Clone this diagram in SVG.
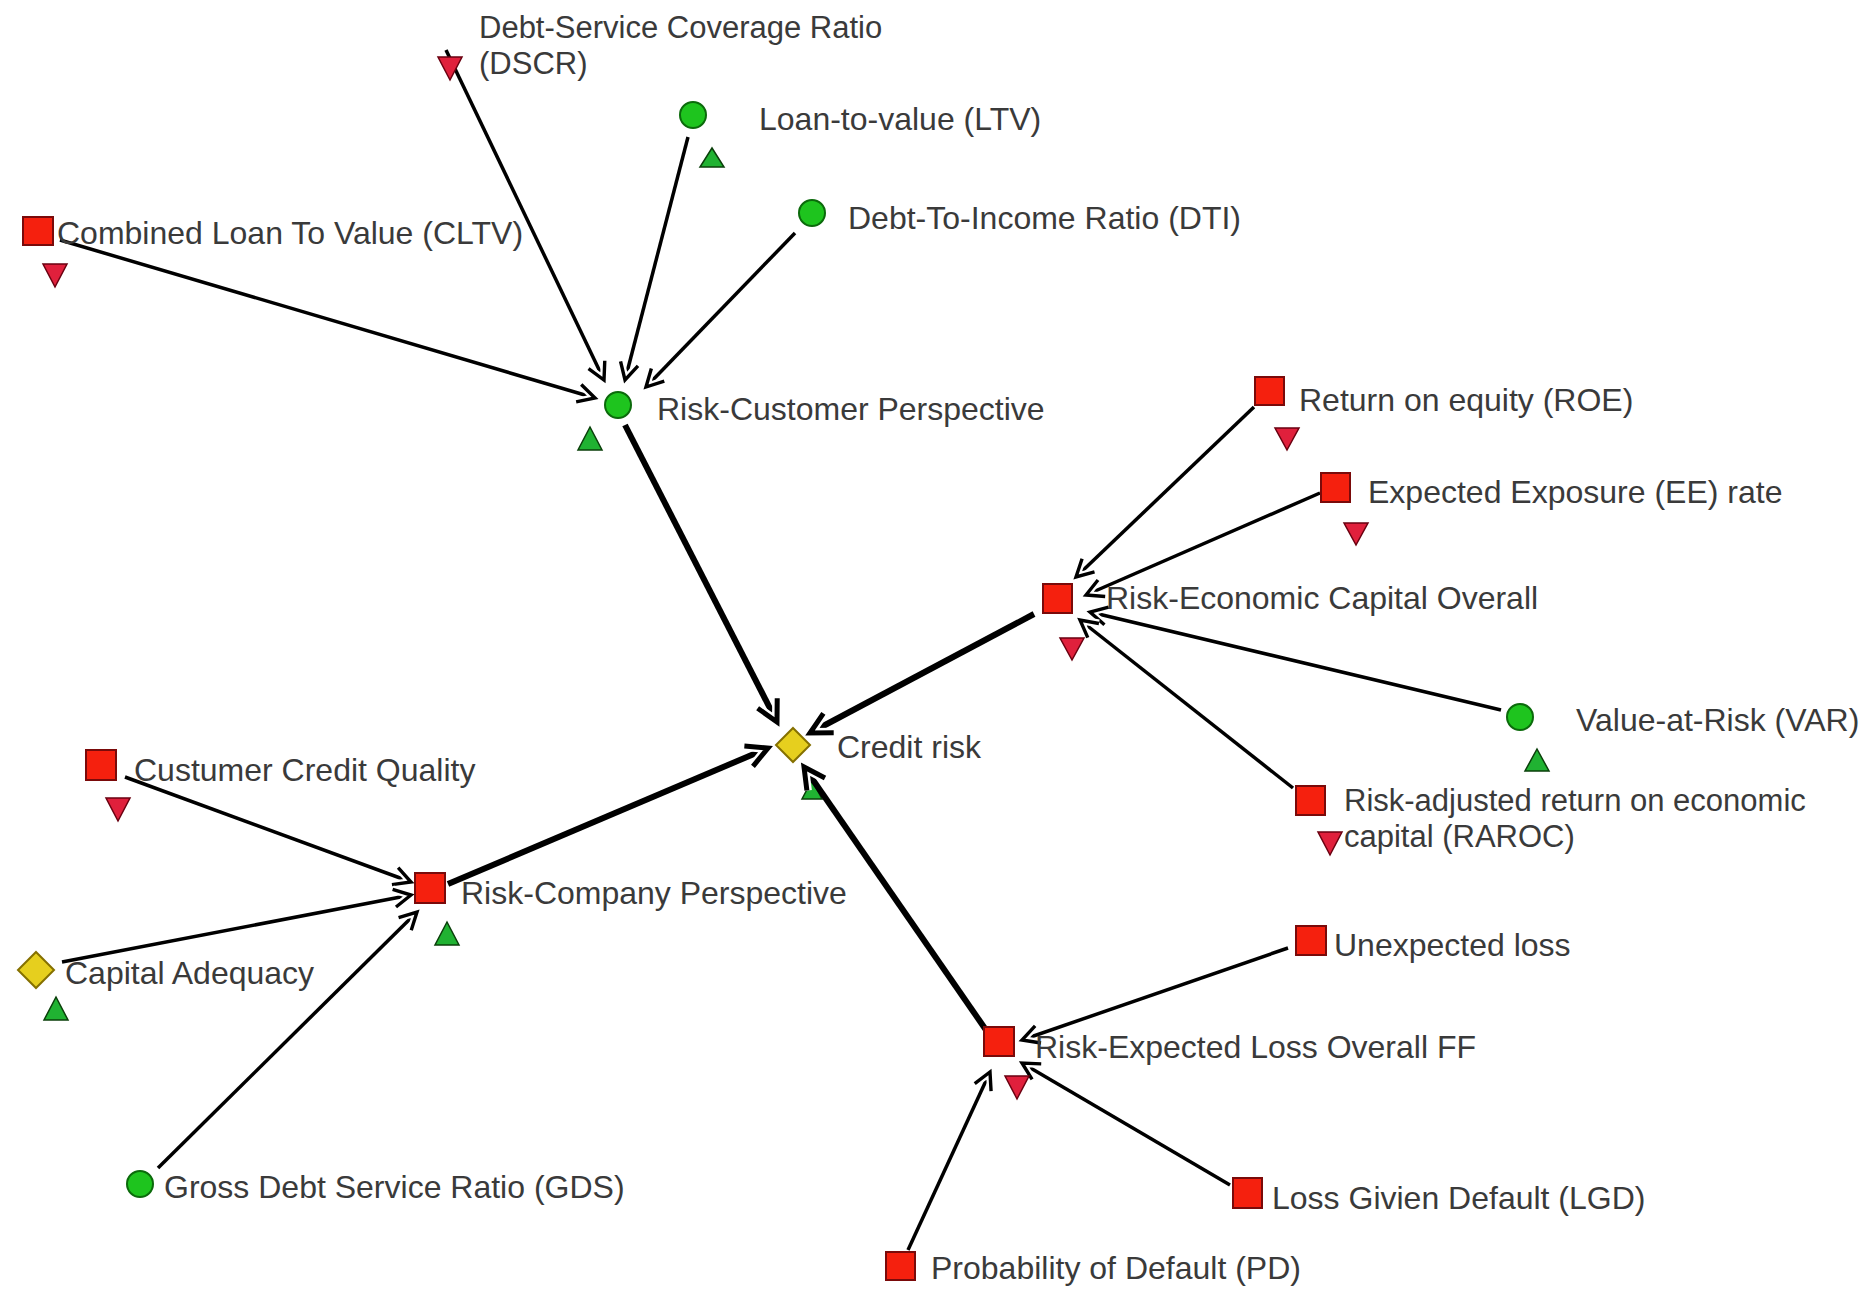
<svg xmlns="http://www.w3.org/2000/svg" width="1867" height="1289" viewBox="0 0 1867 1289">
<defs>
<style>
.lbl{font-family:"Liberation Sans",Arial,sans-serif;font-size:32px;fill:#3a3a3a}
.lbl2{font-family:"Liberation Sans",Arial,sans-serif;font-size:31px;fill:#3a3a3a}
.sq{fill:#f5200e;stroke:#7a0a0a;stroke-width:2}
.ci{fill:#1ec41e;stroke:#0b6a0b;stroke-width:2}
.di{fill:#e6cf1e;stroke:#857000;stroke-width:2}
.dn{fill:#e0203c;stroke:#6a0010;stroke-width:1.5}
.up{fill:#20b232;stroke:#0a3f0a;stroke-width:1.5}
.e{stroke:#000;stroke-width:3.5;fill:none}
.et{stroke:#000;stroke-width:6;fill:none}
</style>
<marker id="a" markerUnits="userSpaceOnUse" orient="auto" refX="0" refY="0" markerWidth="40" markerHeight="40" viewBox="-25 -20 40 40" overflow="visible">
<path d="M-17,-9 L0,0 L-17,9" fill="none" stroke="#fff" stroke-width="8" stroke-linejoin="miter"/>
<path d="M-17,-9 L0,0 L-17,9" fill="none" stroke="#000" stroke-width="3.4" stroke-linejoin="miter"/>
</marker>
<marker id="at" markerUnits="userSpaceOnUse" orient="auto" refX="0" refY="0" markerWidth="50" markerHeight="50" viewBox="-30 -25 50 50" overflow="visible">
<path d="M-21,-11 L0,0 L-21,11" fill="none" stroke="#fff" stroke-width="10" stroke-linejoin="miter"/>
<path d="M-21,-11 L0,0 L-21,11" fill="none" stroke="#000" stroke-width="5" stroke-linejoin="miter"/>
</marker>
</defs>
<rect width="1867" height="1289" fill="#fff"/>
<g id="credit-risk-hidden-indicator">
<polygon class="up" points="812,780 822,799 802,799"/>
</g>
<g id="connectors">
<line class="e" x1="60" y1="240" x2="595" y2="398" marker-end="url(#a)"/>
<line class="e" x1="446" y1="50" x2="604" y2="380" marker-end="url(#a)"/>
<line class="e" x1="688" y1="137" x2="625" y2="380" marker-end="url(#a)"/>
<line class="e" x1="795" y1="233" x2="646" y2="387" marker-end="url(#a)"/>
<line class="e" x1="1254" y1="407" x2="1076" y2="577" marker-end="url(#a)"/>
<line class="e" x1="1320" y1="493" x2="1086" y2="595" marker-end="url(#a)"/>
<line class="e" x1="1501" y1="710" x2="1090" y2="612" marker-end="url(#a)"/>
<line class="e" x1="1293" y1="788" x2="1080" y2="620" marker-end="url(#a)"/>
<line class="e" x1="125" y1="777" x2="411" y2="882" marker-end="url(#a)"/>
<line class="e" x1="62" y1="962" x2="411" y2="895" marker-end="url(#a)"/>
<line class="e" x1="158" y1="1168" x2="417" y2="912" marker-end="url(#a)"/>
<line class="e" x1="1288" y1="948" x2="1022" y2="1040" marker-end="url(#a)"/>
<line class="e" x1="1230" y1="1185" x2="1022" y2="1063" marker-end="url(#a)"/>
<line class="e" x1="908" y1="1250" x2="990" y2="1072" marker-end="url(#a)"/>
<line class="et" x1="625" y1="425" x2="777" y2="722" marker-end="url(#at)"/>
<line class="et" x1="1034" y1="614" x2="810" y2="733" marker-end="url(#at)"/>
<line class="et" x1="448" y1="884" x2="768" y2="748" marker-end="url(#at)"/>
<line class="et" x1="986" y1="1030" x2="804" y2="767" marker-end="url(#at)"/>
</g>
<g id="dscr">
<polygon class="dn" points="438,57 462,57 450,80"/>
<text class="lbl2" x="479" y="38">Debt-Service Coverage Ratio</text>
<text class="lbl2" x="479" y="74">(DSCR)</text>
</g>
<g id="ltv">
<circle class="ci" cx="693" cy="115" r="13"/>
<polygon class="up" points="712,148 724,167 700,167"/>
<text class="lbl" x="759" y="130">Loan-to-value (LTV)</text>
</g>
<g id="dti">
<circle class="ci" cx="812" cy="213" r="13"/>
<text class="lbl" x="848" y="229">Debt-To-Income Ratio (DTI)</text>
</g>
<g id="cltv">
<rect class="sq" x="23" y="217" width="30" height="28"/>
<polygon class="dn" points="43,264 67,264 55,287"/>
<text class="lbl" x="57" y="244">Combined Loan To Value (CLTV)</text>
</g>
<g id="risk-customer">
<circle class="ci" cx="618" cy="405" r="13"/>
<polygon class="up" points="590,427 602,450 578,450"/>
<text class="lbl" x="657" y="420">Risk-Customer Perspective</text>
</g>
<g id="roe">
<rect class="sq" x="1255" y="377" width="29" height="28"/>
<polygon class="dn" points="1275,428 1299,428 1287,450"/>
<text class="lbl" x="1299" y="411">Return on equity (ROE)</text>
</g>
<g id="ee">
<rect class="sq" x="1321" y="473" width="29" height="29"/>
<polygon class="dn" points="1344,523 1368,523 1356,545"/>
<text class="lbl" x="1368" y="503">Expected Exposure (EE) rate</text>
</g>
<g id="risk-economic">
<rect class="sq" x="1043" y="584" width="29" height="29"/>
<polygon class="dn" points="1060,638 1084,638 1072,660"/>
<text class="lbl" x="1106" y="609">Risk-Economic Capital Overall</text>
</g>
<g id="var">
<circle class="ci" cx="1520" cy="717" r="13"/>
<polygon class="up" points="1537,749 1549,771 1525,771"/>
<text class="lbl" x="1576" y="731">Value-at-Risk (VAR)</text>
</g>
<g id="raroc">
<rect class="sq" x="1296" y="786" width="29" height="29"/>
<polygon class="dn" points="1318,832 1342,832 1330,855"/>
<text class="lbl2" x="1344" y="811">Risk-adjusted return on economic</text>
<text class="lbl2" x="1344" y="847">capital (RAROC)</text>
</g>
<g id="credit-risk">
<polygon class="di" points="793,728 810,745 793,762 776,745"/>
<text class="lbl" x="837" y="758">Credit risk</text>
</g>
<g id="customer-credit-quality">
<rect class="sq" x="86" y="750" width="30" height="30"/>
<polygon class="dn" points="106,798 130,798 118,821"/>
<text class="lbl" x="134" y="781">Custumer Credit Quality</text>
</g>
<g id="risk-company">
<rect class="sq" x="415" y="873" width="30" height="30"/>
<polygon class="up" points="447,922 459,945 435,945"/>
<text class="lbl" x="461" y="904">Risk-Company Perspective</text>
</g>
<g id="capital-adequacy">
<polygon class="di" points="36,952 54,970 36,988 18,970"/>
<polygon class="up" points="56,997 68,1020 44,1020"/>
<text class="lbl" x="65" y="984">Capital Adequacy</text>
</g>
<g id="gds">
<circle class="ci" cx="140" cy="1184" r="13"/>
<text class="lbl" x="164" y="1198">Gross Debt Service Ratio (GDS)</text>
</g>
<g id="unexpected-loss">
<rect class="sq" x="1296" y="926" width="30" height="29"/>
<text class="lbl" x="1334" y="956">Unexpected loss</text>
</g>
<g id="risk-expected-loss">
<rect class="sq" x="984" y="1027" width="30" height="29"/>
<polygon class="dn" points="1005,1076 1029,1076 1017,1099"/>
<text class="lbl" x="1035" y="1058">Risk-Expected Loss Overall FF</text>
</g>
<g id="lgd">
<rect class="sq" x="1233" y="1178" width="29" height="30"/>
<text class="lbl" x="1272" y="1209">Loss Givien Default (LGD)</text>
</g>
<g id="pd">
<rect class="sq" x="886" y="1252" width="29" height="28"/>
<text class="lbl" x="931" y="1279">Probability of Default (PD)</text>
</g>
</svg>
